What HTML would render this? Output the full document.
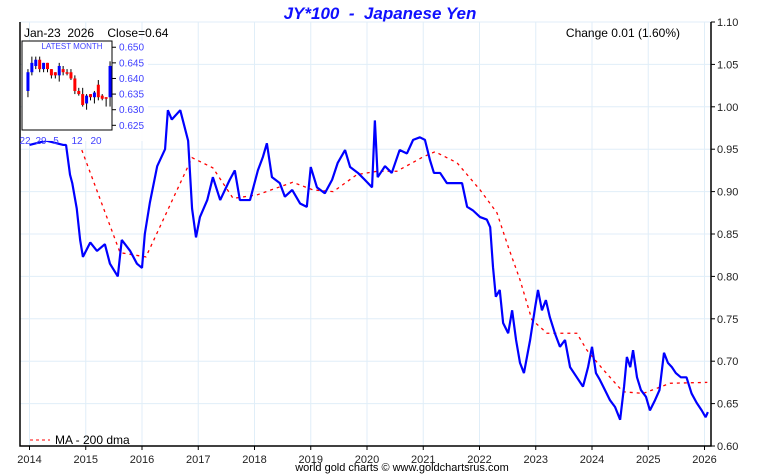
<!DOCTYPE html>
<html><head><meta charset="utf-8"><style>
body{margin:0;background:#fff;}
svg{display:block;font-family:"Liberation Sans",sans-serif;}
text{white-space:pre;}
</style></head><body>
<svg id="chart" width="760" height="475">
<text x="380" y="19" text-anchor="middle" fill="#1010ff" font-size="17" font-weight="bold" font-style="italic">JY*100  -  Japanese Yen</text>
<g id="grid"></g>
<g id="axes"></g>
<g id="series"></g>
<text x="24" y="37" font-size="12" fill="#000">Jan-23  2026    Close=0.64</text>
<text x="680" y="37" font-size="12" fill="#000" text-anchor="end">Change 0.01 (1.60%)</text>
<g id="inset"></g>
<g>
<line x1="30" y1="440" x2="50" y2="440" stroke="#f00" stroke-dasharray="3,3"/>
<text x="55" y="444" font-size="12" fill="#000">MA - 200 dma</text>
</g>
<text x="402" y="471" font-size="11" text-anchor="middle" fill="#000">world gold charts © www.goldchartsrus.com</text>
</svg>
<script>
const years=[2014,2015,2016,2017,2018,2019,2020,2021,2022,2023,2024,2025,2026];
const yTicks=[0.60,0.65,0.70,0.75,0.80,0.85,0.90,0.95,1.00,1.05,1.10];
const priceDates=[2014.0,2014.3,2014.6,2014.65,2014.72,2014.76,2014.84,2014.9,2014.95,2015.08,2015.2,2015.34,2015.43,2015.57,2015.64,2015.79,2015.91,2016.0,2016.05,2016.14,2016.27,2016.41,2016.46,2016.53,2016.68,2016.82,2016.89,2016.96,2017.03,2017.16,2017.26,2017.39,2017.56,2017.65,2017.74,2017.92,2018.06,2018.15,2018.22,2018.31,2018.45,2018.54,2018.67,2018.81,2018.93,2019.0,2019.11,2019.25,2019.38,2019.48,2019.61,2019.7,2019.84,2019.96,2020.09,2020.14,2020.19,2020.32,2020.44,2020.58,2020.71,2020.82,2020.94,2021.03,2021.12,2021.19,2021.3,2021.42,2021.56,2021.69,2021.78,2021.88,2022.01,2022.13,2022.19,2022.24,2022.29,2022.36,2022.42,2022.51,2022.58,2022.65,2022.72,2022.79,2022.9,2022.99,2023.04,2023.11,2023.18,2023.25,2023.34,2023.43,2023.52,2023.61,2023.73,2023.84,2023.93,2024.0,2024.07,2024.14,2024.23,2024.32,2024.41,2024.5,2024.57,2024.62,2024.68,2024.73,2024.8,2024.87,2024.96,2025.03,2025.12,2025.2,2025.28,2025.35,2025.42,2025.49,2025.58,2025.68,2025.77,2025.86,2025.95,2026.02,2026.06];
const priceValues=[.955,.96,.955,.955,.92,.91,.88,.843,.823,.84,.83,.838,.815,.80,.843,.83,.815,.81,.85,.887,.93,.95,.996,.985,.996,.96,.88,.846,.87,.89,.917,.89,.914,.925,.89,.89,.925,.941,.957,.917,.91,.894,.902,.886,.882,.929,.905,.898,.914,.934,.949,.929,.922,.914,.905,.984,.917,.93,.922,.949,.945,.961,.964,.961,.937,.922,.922,.91,.91,.91,.882,.878,.87,.867,.858,.811,.776,.784,.745,.733,.76,.725,.698,.686,.725,.764,.784,.76,.772,.752,.733,.717,.725,.693,.681,.67,.693,.717,.686,.678,.666,.654,.646,.631,.67,.705,.693,.713,.681,.666,.658,.642,.654,.666,.71,.698,.693,.686,.681,.681,.662,.651,.642,.634,.64];
const maDates=[2014.93,2015.61,2016.07,2016.89,2017.26,2017.62,2018.04,2018.68,2019.04,2019.40,2019.82,2020.18,2020.53,2021.0,2021.21,2021.6,2022.01,2022.31,2022.51,2022.72,2022.93,2023.2,2023.73,2023.91,2024.2,2024.55,2024.91,2025.39,2026.05];
const maValues=[.949,.828,.823,.94,.928,.892,.896,.911,.902,.900,.92,.924,.924,.941,.947,.934,.902,.875,.835,.796,.749,.733,.733,.713,.69,.664,.662,.674,.675];
const candleOpen=[.636,.642,.644,.646,.643,.645,.643,.642,.641,.643,.642,.642,.640,.636,.635,.632,.635,.634,.638,.6345,.634,.634];
const candleClose=[.642,.645,.646,.643,.645,.643,.641,.641,.644,.642,.6415,.640,.636,.635,.6315,.6345,.634,.6355,.634,.6335,.6335,.644];
const candleHigh=[.643,.647,.647,.647,.645,.645,.643,.642,.645,.644,.643,.643,.641,.637,.637,.635,.635,.636,.6395,.635,.634,.6455];
const candleLow=[.634,.641,.643,.642,.642,.642,.640,.640,.639,.641,.641,.6395,.635,.6345,.631,.630,.633,.632,.633,.633,.631,.631];
const insetTicks=[0.625,0.630,0.635,0.640,0.645,0.650];
const insetDays=["22","29","5","12","20"];

const NS="http://www.w3.org/2000/svg";
const L=20,R=711,T=22,B=446;
const xs=y=>29.5+(y-2014)*56.25;
const ys=p=>B-(p-0.6)/0.5*(B-T);
function mk(tag,attrs,parent){const e=document.createElementNS(NS,tag);for(const k in attrs)e.setAttribute(k,attrs[k]);parent.appendChild(e);return e;}
const grid=document.getElementById('grid'),axes=document.getElementById('axes'),ser=document.getElementById('series'),ins=document.getElementById('inset');
years.forEach(y=>{
 const g=mk('line',{x1:xs(y),x2:xs(y),y1:T,y2:B,stroke:'#e0eef8'},grid);
 
 
 const t=mk('line',{x1:xs(y),x2:xs(y),y1:B,y2:B+4,stroke:'#000'},axes);
 
 
 const tx=mk('text',{x:xs(y),y:B+17,'font-size':11,'text-anchor':'middle',fill:'#222'},axes);
 tx.textContent=y;
 
 
});
yTicks.forEach(v=>{
 const g=mk('line',{x1:L,x2:R,y1:ys(v),y2:ys(v),stroke:'#e0eef8'},grid);
 
 
 const t=mk('line',{x1:R,x2:R+4,y1:ys(v),y2:ys(v),stroke:'#000'},axes);
 
 
 const tx=mk('text',{x:R+6,y:ys(v)+4,'font-size':11,fill:'#222'},axes);
 tx.textContent=v.toFixed(2);
 
 
});
const fr=mk('path',{d:`M${L},${T}V${B}H${R}V${T}`,fill:'none',stroke:'#000','stroke-width':1.5},axes);


const ma=mk('polyline',{points:maDates.map((d,i)=>xs(d)+','+ys(maValues[i])).join(' '),fill:'none',stroke:'#f00','stroke-dasharray':'3,4','stroke-width':1.3},ser);


const pl=mk('polyline',{points:priceDates.map((d,i)=>xs(d)+','+ys(priceValues[i])).join(' '),fill:'none',stroke:'#0000ff','stroke-width':2.2,'stroke-linejoin':'bevel'},ser);


// inset
const IL=22,IR=112,IT=41,IB=130;
const iy=p=>IB-(p-0.6235)/(0.652-0.6235)*(IB-IT);
const cover=mk('rect',{x:IL,y:IT,width:126,height:100,fill:'#fff','fill-opacity':0.9},ins);


const bg=mk('rect',{x:IL,y:IT,width:IR-IL,height:IB-IT,fill:'#fff',stroke:'#000','stroke-width':1},ins);


const it=mk('text',{x:72,y:49,'font-size':8,'text-anchor':'middle',fill:'#4040ff'},ins);
it.textContent='LATEST MONTH';


insetTicks.forEach(v=>{
 const t=mk('line',{x1:IR,x2:IR+4,y1:iy(v),y2:iy(v),stroke:'#000'},ins);
 
 
 const tx=mk('text',{x:IR+7,y:iy(v)+3.5,'font-size':10,fill:'#4040ff'},ins);
 tx.textContent=v.toFixed(3);
 
 
});
const cw=(IR-IL-4)/candleOpen.length;
candleOpen.forEach((o,i)=>{
 const c=candleClose[i],x=IL+4+cw*(i+0.5);
 const w=mk('line',{x1:x,x2:x,y1:iy(candleHigh[i]),y2:iy(candleLow[i]),stroke:'#000'},ins);
 
 
 const b=mk('rect',{x:x-1.5,width:3,y:iy(Math.max(o,c)),height:Math.max(1,Math.abs(iy(o)-iy(c))),fill:c>=o?'#0000ff':'#ff0000'},ins);
 
 
});
insetDays.forEach((d,i)=>{
 const tx=mk('text',{x:[25,41,56,77,96][i],y:144,'font-size':10,'text-anchor':'middle',fill:'#4040ff'},ins);
 tx.textContent=d;
 
 
});
</script>
</body></html>
